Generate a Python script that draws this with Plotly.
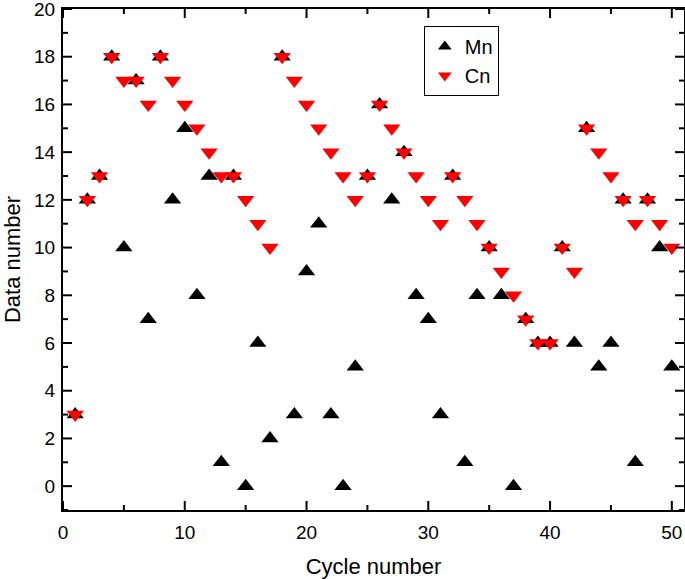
import plotly.graph_objects as go

cycles = list(range(1, 51))
mn = [3, 12, 13, 18, 10, 17, 7, 18, 12, 15,
      8, 13, 1, 13, 0, 6, 2, 18, 3, 9,
      11, 3, 0, 5, 13, 16, 12, 14, 8, 7,
      3, 13, 1, 8, 10, 8, 0, 7, 6, 6,
      10, 6, 15, 5, 6, 12, 1, 12, 10, 5]
cn = [3, 12, 13, 18, 17, 17, 16, 18, 17, 16,
      15, 14, 13, 13, 12, 11, 10, 18, 17, 16,
      15, 14, 13, 12, 13, 16, 15, 14, 13, 12,
      11, 13, 12, 11, 10, 9, 8, 7, 6, 6,
      10, 9, 15, 14, 13, 12, 11, 12, 11, 10]

FONT = "Liberation Sans, Arial"
X_RANGE = [0, 51]
Y_RANGE = [-1, 20]
X_MAJOR, X_MINOR = 10, 5
Y_MAJOR, Y_MINOR = 2, 1

fig = go.Figure()
fig.add_trace(go.Scatter(x=cycles, y=mn, mode="markers", name="Mn",
                         marker=dict(symbol="triangle-up", size=15, color="black")))
fig.add_trace(go.Scatter(x=cycles, y=cn, mode="markers", name="Cn",
                         marker=dict(symbol="triangle-down", size=15, color="#ff0000")))

axis_common = dict(showline=True, linecolor="black", linewidth=2, mirror=True,
                   ticks="", showgrid=False, zeroline=False, automargin=False,
                   ticklabeloverflow="allow",
                   tickfont=dict(family=FONT, size=19, color="black"))

# inward tick marks on all four sides (major and minor), placed via the axes' scales
tick_line = dict(color="black", width=2)
shapes = []
v = X_RANGE[0]
while v <= X_RANGE[1]:
    L = 9 if v % X_MAJOR == 0 else 5
    shapes.append(dict(type="line", xref="x", yref="y domain", ysizemode="pixel",
                       yanchor=0, x0=v, x1=v, y0=0, y1=L, line=tick_line))
    shapes.append(dict(type="line", xref="x", yref="y domain", ysizemode="pixel",
                       yanchor=1, x0=v, x1=v, y0=0, y1=-L, line=tick_line))
    v += X_MINOR
v = Y_RANGE[0]
while v <= Y_RANGE[1]:
    L = 9 if v % Y_MAJOR == 0 else 5
    shapes.append(dict(type="line", yref="y", xref="x domain", xsizemode="pixel",
                       xanchor=0, y0=v, y1=v, x0=0, x1=L, line=tick_line))
    shapes.append(dict(type="line", yref="y", xref="x domain", xsizemode="pixel",
                       xanchor=1, y0=v, y1=v, x0=0, x1=-L, line=tick_line))
    v += Y_MINOR

fig.update_layout(
    template="none",
    width=685, height=579,
    margin=dict(l=63, r=1, t=9, b=69),
    plot_bgcolor="white", paper_bgcolor="white",
    font=dict(family=FONT, color="black"),
    showlegend=True,
    legend=dict(x=0.581, y=0.966, xanchor="left", yanchor="top",
                bordercolor="black", borderwidth=1, bgcolor="white",
                font=dict(size=20, family=FONT),
                itemsizing="constant"),
    xaxis=dict(range=X_RANGE, dtick=X_MAJOR, tick0=0, ticklabelstandoff=4,
               title=dict(text="Cycle number", font=dict(size=22), standoff=22),
               **axis_common),
    yaxis=dict(range=Y_RANGE, dtick=Y_MAJOR, tick0=0, ticklabelstandoff=2,
               title=dict(text="Data number", font=dict(size=22), standoff=12),
               **axis_common),
    shapes=shapes,
)

fig.write_html("out.html", post_script="document.body.style.margin='0';",
               config={"displayModeBar": False})
